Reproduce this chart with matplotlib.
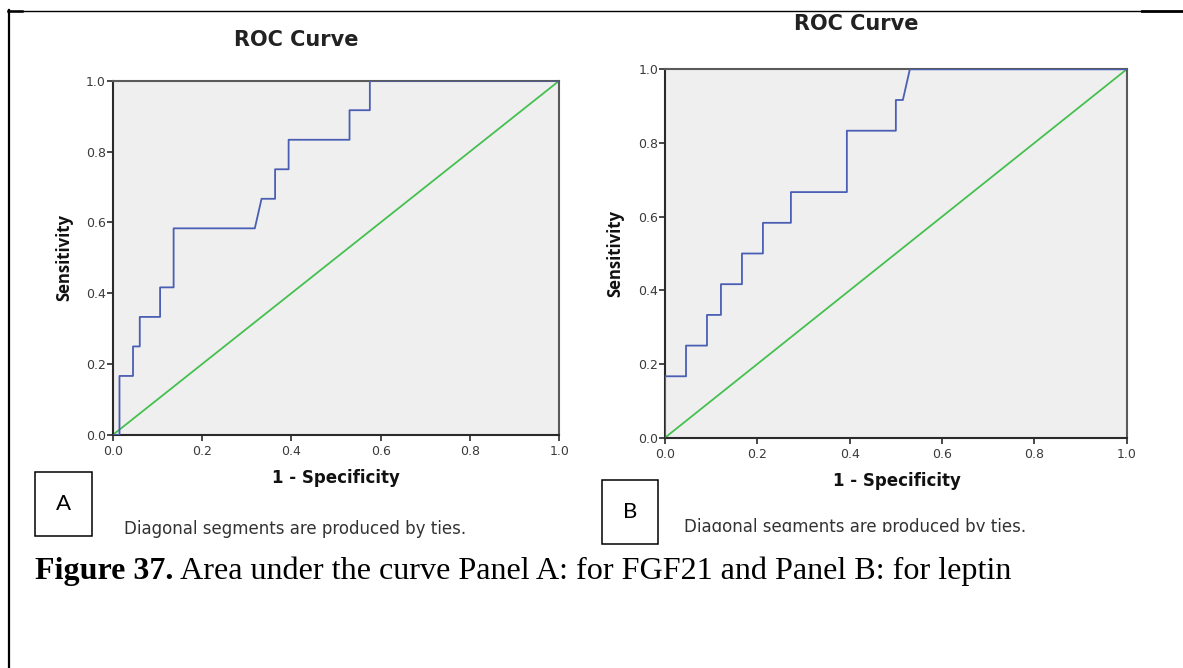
import matplotlib
matplotlib.use("Agg")
import matplotlib.pyplot as plt
from matplotlib.lines import Line2D
from matplotlib.patches import Rectangle
from matplotlib.transforms import Bbox, TransformedBbox

# ROC coordinates (1 - specificity, sensitivity)
fpr_a = [0.0, 0.0152, 0.0152, 0.0455, 0.0455, 0.0606, 0.0606, 0.1061, 0.1061,
         0.1364, 0.1364, 0.3182, 0.3333, 0.3636, 0.3636, 0.3939, 0.3939,
         0.5303, 0.5303, 0.5758, 0.5758, 1.0]
tpr_a = [0.0, 0.0, 0.1667, 0.1667, 0.25, 0.25, 0.3333, 0.3333, 0.4167,
         0.4167, 0.5833, 0.5833, 0.6667, 0.6667, 0.75, 0.75, 0.8333,
         0.8333, 0.9167, 0.9167, 1.0, 1.0]

fpr_b = [0.0, 0.0, 0.0455, 0.0455, 0.0909, 0.0909, 0.1212, 0.1212, 0.1667,
         0.1667, 0.2121, 0.2121, 0.2727, 0.2727, 0.3939, 0.3939, 0.5,
         0.5, 0.5152, 0.5303, 1.0]
tpr_b = [0.0, 0.1667, 0.1667, 0.25, 0.25, 0.3333, 0.3333, 0.4167, 0.4167,
         0.5, 0.5, 0.5833, 0.5833, 0.6667, 0.6667, 0.8333, 0.8333,
         0.9167, 0.9167, 1.0, 1.0]

ref_line = [0.0, 1.0]
ticks = [0.0, 0.2, 0.4, 0.6, 0.8, 1.0]
tick_labels = ["0.0", "0.2", "0.4", "0.6", "0.8", "1.0"]

W, H = 1183, 668
fig = plt.figure(figsize=(W / 100, H / 100), dpi=100)
fig.patch.set_facecolor("white")

BLUE = "#4a5fb4"
GREEN = "#45c04f"
FACE = "#efefef"


def fx(px):
    return px / W


def fy(py):
    return 1 - py / H


def px_rect(left, top, right, bottom):
    return [fx(left), fy(bottom), (right - left) / W, (bottom - top) / H]


def roc_panel(rect, fpr, tpr, title_xy, xlabel_xy, ylabel_x, note_xy,
              note_clip=None):
    ax = fig.add_axes(px_rect(*rect))
    ax.set_facecolor(FACE)
    ax.plot(ref_line, ref_line, color=GREEN, lw=1.3, zorder=2)
    ax.plot(fpr, tpr, color=BLUE, lw=1.3, zorder=3)
    ax.set_xlim(0, 1)
    ax.set_ylim(0, 1)
    ax.set_xticks(ticks)
    ax.set_yticks(ticks)
    ax.set_xticklabels(tick_labels)
    ax.set_yticklabels(tick_labels)
    ax.tick_params(direction="out", length=4.5, width=1.3, colors="#3a3a3a",
                   labelsize=9)
    ax.tick_params(axis="x", pad=3)
    ax.tick_params(axis="y", pad=0.5)
    for side in ("top", "right"):
        ax.spines[side].set_color("#5a5a5a")
        ax.spines[side].set_linewidth(1.5)
    for side in ("left", "bottom"):
        ax.spines[side].set_color("#2a2a2a")
        ax.spines[side].set_linewidth(1.5)
    fig.text(fx(title_xy[0]), fy(title_xy[1]), "ROC Curve", ha="center",
             va="center", fontsize=15, fontweight="bold",
             family="DejaVu Sans", color="#222222")
    fig.text(fx(xlabel_xy[0]), fy(xlabel_xy[1]), "1 - Specificity",
             ha="center", va="center", fontsize=12, fontweight="bold",
             family="DejaVu Sans", color="#111111")
    fig.text(fx(ylabel_x), fy((rect[1] + rect[3]) / 2), "Sensitivity",
             ha="center", va="center", rotation=90, fontsize=12,
             fontweight="bold", family="Open Sans", color="#111111")
    note = fig.text(fx(note_xy[0]), fy(note_xy[1]),
                    "Diagonal segments are produced by ties.", ha="left",
                    va="center", fontsize=12, family="DejaVu Sans",
                    color="#333333")
    if note_clip is not None:
        box = TransformedBbox(Bbox([[0, fy(note_clip)], [1, 1]]),
                              fig.transFigure)
        note.set_clip_box(box)
        note.set_clip_on(True)
    return ax


roc_panel((112.7, 80.7, 559.3, 435.0), fpr_a, tpr_a,
          title_xy=(296, 40), xlabel_xy=(336, 478), ylabel_x=64,
          note_xy=(124, 529))
roc_panel((665.0, 69.3, 1126.7, 437.7), fpr_b, tpr_b,
          title_xy=(856, 24), xlabel_xy=(896.5, 481.5), ylabel_x=615.5,
          note_xy=(684, 526.5), note_clip=532)

# Panel letters in boxes
for (l, t, r, b), letter in (((35, 472, 92.3, 536), "A"),
                             ((601.7, 480, 657.7, 544.3), "B")):
    fig.patches.append(Rectangle((fx(l), fy(b)), (r - l) / W, (b - t) / H,
                                 transform=fig.transFigure, fill=False,
                                 edgecolor="black", lw=1.1))
    fig.text(fx((l + r) / 2), fy((t + b) / 2), letter, ha="center",
             va="center", fontsize=16, family="Lato", color="black")

# Caption
cap = fig.text(fx(35), fy(579), "Figure 37.", ha="left", va="baseline",
               fontsize=23, fontweight="bold", family="Liberation Serif")
fig.canvas.draw()
bb = cap.get_window_extent()
fig.text((bb.x1 + 7) / W, fy(579),
         "Area under the curve Panel A: for FGF21 and Panel B: for leptin",
         ha="left", va="baseline", fontsize=23.1, family="Liberation Serif")

# Page frame lines
fig.add_artist(Line2D([fx(8.5), fx(8.5)], [fy(10), 0], color="black",
                      lw=1.6, transform=fig.transFigure))
fig.add_artist(Line2D([fx(8), fx(1142)], [fy(10.5), fy(10.5)],
                      color="black", lw=1.0, transform=fig.transFigure))
fig.add_artist(Line2D([fx(8), fx(22)], [fy(10.8), fy(10.8)],
                      color="black", lw=1.8, transform=fig.transFigure))
fig.add_artist(Line2D([fx(1142), 1.0], [fy(10.8), fy(10.8)],
                      color="black", lw=2.0, transform=fig.transFigure))

fig.savefig("out.png", dpi=100, facecolor="white")
